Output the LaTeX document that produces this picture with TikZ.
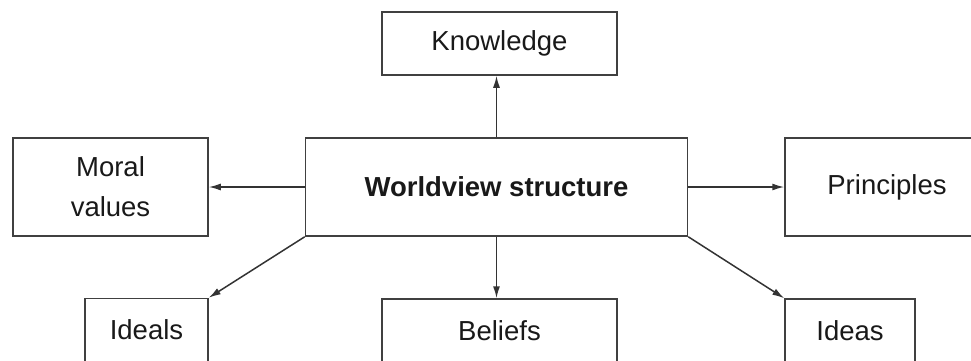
\documentclass[tikz,border=0pt]{standalone}
\usepackage{fontspec}
\setmainfont{Liberation Sans}
\usetikzlibrary{arrows.meta}
\begin{document}
\begin{tikzpicture}
[x=1pt,y=-1pt,
  lineDecorate/.style={-{Latex[length=12pt,width=7pt]},line width=1.5pt,draw=black!80},%
  nodeDecorate/.style={shape=rectangle,draw=black!75,line width=1.5pt,inner sep=0pt,
    align=center,text=black!90,font=\fontsize{27.5}{40}\selectfont}]
\useasboundingbox (0,0) rectangle (971,360);
\clip (0,0) rectangle (971,360);
%% boxes
\foreach \nodename/\x/\y/\w/\h/\txt in {
  know/499.5/43.5/235/63/Knowledge, moral/110.5/187/195/98/{Moral\\values},
  princ/887/187/204/98/Principles, ideals/146.5/330/123/63/Ideals,
  beliefs/499.5/330.5/235/63/Beliefs, ideas/850/330.5/130/63/Ideas}
{
  \node (\nodename) at (\x,\y) [nodeDecorate,minimum width=\w pt,minimum height=\h pt] {\txt};
}
\node (world) at (496.5,187) [nodeDecorate,minimum width=382pt,minimum height=98pt]
  {\textbf{Worldview structure}};
%% arrows
\path
\foreach \startnode/\endnode in {
  world.north/know.south -| world.north, world.west/moral.east, world.east/princ.west,
  world.south/beliefs.north -| world.south, world.south west/ideals.north east,
  world.south east/ideas.north west}
{
  (\startnode) edge[lineDecorate] (\endnode)
};
\end{tikzpicture}
\end{document}
